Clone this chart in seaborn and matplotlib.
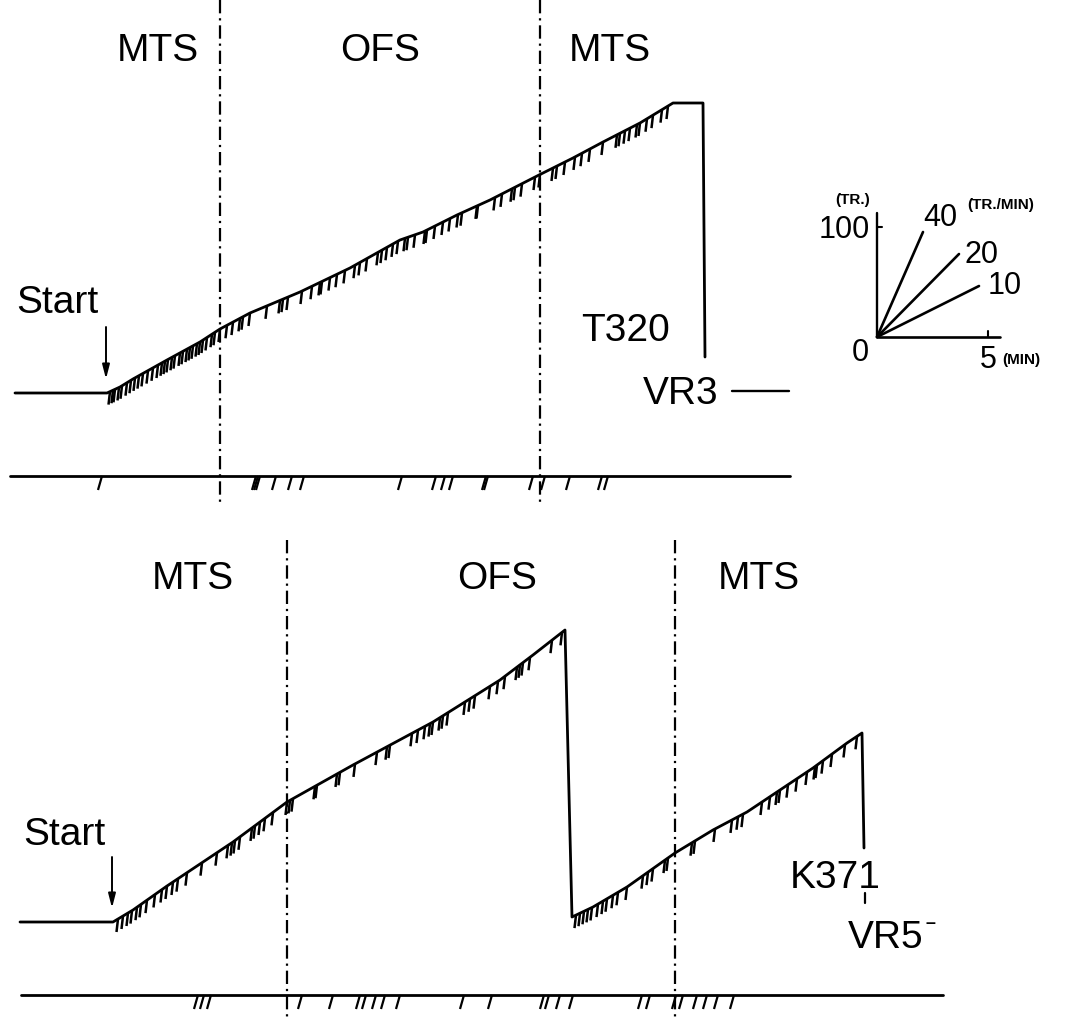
import numpy as np
import matplotlib
matplotlib.use("Agg")
import matplotlib.pyplot as plt
import seaborn as sns
from matplotlib.collections import LineCollection

# ---------------- data (figure pixel space: x right, y down) ----------------
phase_names = ["MTS", "OFS", "MTS"]
phase_label_x_top = [158, 380, 610]
phase_label_x_bot = [193, 497, 759]
phase_bounds_top = [220, 540]
phase_bounds_bot = [287, 675]

# cumulative record, top (T320 / VR3)
top_rec_x = [15, 107, 120, 133, 167, 200, 220, 250, 300, 350, 400, 423, 457, 490, 539, 573, 603, 640, 673, 703, 705]
top_rec_y = [393, 393, 387, 379, 360, 342, 329, 313, 292, 268, 240, 232, 215, 200, 175, 158, 142, 123, 103, 103, 357]
top_rec_marks = [110, 113, 115, 119, 122, 127, 131, 135, 139, 143, 148, 153, 158, 162, 165, 168, 172, 175,
                 180, 183, 187, 190, 193, 197, 200, 203, 207, 212, 215, 220, 227, 233, 240, 243, 250, 267,
                 280, 283, 288, 302, 312, 320, 322, 330, 337, 345, 355, 360, 367, 378, 382, 387, 393, 398,
                 405, 408, 415, 425, 427, 435, 443, 450, 458, 462, 477, 478, 495, 502, 512, 515, 522, 535,
                 540, 553, 557, 565, 575, 582, 590, 603, 617, 620, 625, 630, 637, 640, 647, 653, 662, 668]
top_event_x = [100, 254, 256, 258, 274, 290, 302, 400, 434, 443, 451, 484, 486, 531, 543, 568, 600, 606]

# cumulative record, bottom (K371 / VR5-)
bot_rec1_x = [20, 113, 133, 167, 200, 233, 287, 353, 433, 500, 533, 565]
bot_rec1_y = [922, 922, 910, 886, 864, 842, 802, 765, 722, 680, 655, 630]
bot_rec2_x = [572, 593, 627, 675, 713, 747, 780, 813, 847, 862, 864]
bot_rec2_y = [917, 907, 887, 853, 830, 812, 790, 768, 743, 733, 848]
bot_rec1_marks = [118, 123, 128, 132, 137, 141, 147, 155, 162, 167, 173, 178, 187, 202, 217, 228, 232, 235,
                  240, 252, 255, 260, 265, 273, 287, 290, 293, 315, 317, 337, 340, 355, 377, 387, 390, 412,
                  418, 425, 430, 433, 440, 443, 448, 465, 470, 475, 490, 498, 505, 517, 520, 523, 530, 552, 562]
bot_rec2_marks = [576, 580, 584, 588, 592, 598, 603, 607, 613, 618, 627, 643, 648, 653, 665, 668, 692, 695,
                  715, 732, 738, 743, 762, 770, 777, 780, 788, 797, 807, 815, 817, 823, 832, 845, 857]
bot_event_x = [196, 202, 209, 300, 331, 358, 364, 374, 383, 398, 462, 490, 542, 547, 558, 571,
               640, 648, 674, 681, 695, 705, 716, 732]

# rate key (inset)
key_rates = ["40", "20", "10"]
key_end_x = [923, 959, 979]
key_end_y = [232, 254, 286]

# ---------------- figure ----------------
sns.set_theme(style="white")
plt.rcParams["font.family"] = ["Liberation Sans", "DejaVu Sans"]

W, H = 1079, 1021
fig = plt.figure(figsize=(W / 100, H / 100), dpi=100)
ax = fig.add_axes([0, 0, 1, 1])
ax.set_xlim(0, W)
ax.set_ylim(H, 0)
ax.axis("off")

K = "black"
REC_LW = 2.0

def record(xs, ys):
    sns.lineplot(x=xs, y=ys, sort=False, estimator=None, color=K, lw=REC_LW, ax=ax)

def hang_marks(marks, xs, ys, length=13, lean=-1.5, lw=1.8):
    my = np.interp(marks, xs, ys)
    segs = [[(m, y), (m + lean, y + length)] for m, y in zip(marks, my)]
    ax.add_collection(LineCollection(segs, colors=K, linewidths=lw))

def event_line(x0, x1, y, ticks):
    sns.lineplot(x=[x0, x1], y=[y, y], sort=False, estimator=None, color=K, lw=2.0, ax=ax)
    segs = [[(t + 2, y), (t - 2, y + 14)] for t in ticks]
    ax.add_collection(LineCollection(segs, colors=K, linewidths=1.6))

dash = (0, (6, 2.2, 1, 2.2))
for b in phase_bounds_top:
    ax.plot([b, b], [0, 505], color=K, lw=1.6, linestyle=dash)
for b in phase_bounds_bot:
    ax.plot([b, b], [540, H], color=K, lw=1.6, linestyle=dash)

# top panel
record(top_rec_x, top_rec_y)
hang_marks(top_rec_marks, top_rec_x, top_rec_y)
event_line(10, 790, 476, top_event_x)
ax.plot([732, 789], [391, 391], color=K, lw=1.7)

# bottom panel
record(bot_rec1_x + bot_rec2_x, bot_rec1_y + bot_rec2_y)
hang_marks(bot_rec1_marks, bot_rec1_x, bot_rec1_y)
hang_marks(bot_rec2_marks, bot_rec2_x, bot_rec2_y)
event_line(21, 943, 995, bot_event_x)
ax.plot([865, 865], [893, 903], color=K, lw=1.6)

# labels
FS = 28
for name, x in zip(phase_names, phase_label_x_top):
    ax.text(x, 61, name, fontsize=FS, ha="center", va="baseline", color=K)
for name, x in zip(phase_names, phase_label_x_bot):
    ax.text(x, 589, name, fontsize=FS, ha="center", va="baseline", color=K)

ax.text(16, 313, "Start", fontsize=FS, ha="left", va="baseline", color=K)
ax.text(23, 845, "Start", fontsize=FS, ha="left", va="baseline", color=K)
arrow = dict(arrowstyle="-|>,head_length=0.7,head_width=0.18", lw=1.4, color=K, shrinkA=0, shrinkB=0)
ax.annotate("", xy=(106, 379), xytext=(106, 327), arrowprops=arrow)
ax.annotate("", xy=(112, 908), xytext=(112, 857), arrowprops=arrow)

ax.text(581, 341, "T320", fontsize=FS, ha="left", va="baseline", color=K)
ax.text(643, 404, "VR3", fontsize=FS, ha="left", va="baseline", color=K)
ax.text(790, 888, "K371", fontsize=FS, ha="left", va="baseline", color=K)
ax.text(848, 948, "VR5", fontsize=FS, ha="left", va="baseline", color=K)
ax.text(925, 928, "\u2013", fontsize=13, fontweight="bold", ha="left", va="baseline", color=K)

# rate key inset
ox, oy = 877, 337
ax.plot([ox, ox], [oy, 213], color=K, lw=1.7)
ax.plot([ox, 1000], [oy, oy], color=K, lw=1.9)
ax.plot([ox, 882], [227, 227], color=K, lw=1.5)
ax.plot([988, 988], [oy, 331], color=K, lw=1.5)
for xe, ye in zip(key_end_x, key_end_y):
    sns.lineplot(x=[ox, xe], y=[oy, ye], sort=False, estimator=None, color=K, lw=1.9, ax=ax)

KS = 22
ax.text(923, 226, key_rates[0], fontsize=KS, ha="left", va="baseline", color=K)
ax.text(965, 263, key_rates[1], fontsize=KS, ha="left", va="baseline", color=K)
ax.text(988, 294, key_rates[2], fontsize=KS, ha="left", va="baseline", color=K)
ax.text(870, 238, "100", fontsize=KS, ha="right", va="baseline", color=K)
ax.text(869, 361, "0", fontsize=KS, ha="right", va="baseline", color=K)
ax.text(988, 368, "5", fontsize=KS, ha="center", va="baseline", color=K)
ax.text(870, 204, "(TR.)", fontsize=11, fontweight="bold", ha="right", va="baseline", color=K)
ax.text(967, 209, "(TR./MIN)", fontsize=11, fontweight="bold", ha="left", va="baseline", color=K)
ax.text(1002, 364, "(MIN)", fontsize=11, fontweight="bold", ha="left", va="baseline", color=K)

fig.savefig("out.png", dpi=100, facecolor="white")
